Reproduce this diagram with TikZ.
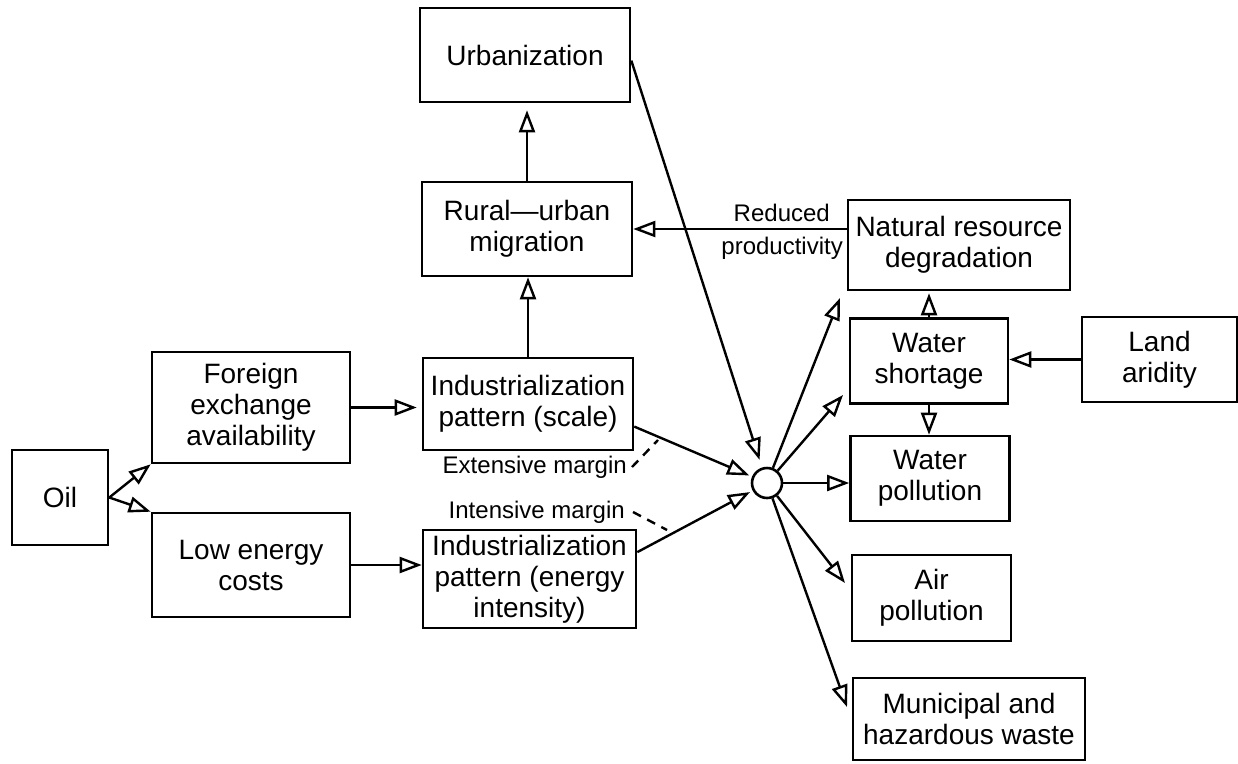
\documentclass[tikz,border=0pt]{standalone}
\usepackage{fontspec}
\setmainfont{Liberation Sans}
\usetikzlibrary{arrows.meta}
\begin{document}
\begin{tikzpicture}[x=1pt,y=-1pt,
 box/.style={draw,line width=2.6pt,rectangle,inner sep=0pt,align=center,font=\fontsize{28}{31}\selectfont},
 arr/.style={line width=2.4pt,-{Triangle[open,length=22pt,width=16pt,line width=2.4pt]}},
 lbl/.style={font=\fontsize{24}{28}\selectfont,inner sep=0pt},
 mdash/.style={line width=2.4pt,dash pattern=on 9pt off 7pt}]
\useasboundingbox[fill=white] (0,0) rectangle (1238,763);
\node[box,minimum width=96pt,minimum height=95pt] (oil) at (60,497.5) {Oil};
\node[box,minimum width=198pt,minimum height=111pt] (foreign) at (251,407.5) {Foreign\\exchange\\availability};
\node[box,minimum width=198pt,minimum height=104pt] (lowenergy) at (251,565) {Low energy\\costs};
\node[box,minimum width=210pt,minimum height=92pt] (indscale) at (528,404) {Industrialization\\pattern (scale)};
\node[box,minimum width=213pt,minimum height=98pt] (indenergy) at (529.5,579) {Industrialization\\pattern (energy\\intensity)};
\node[box,minimum width=210pt,minimum height=94pt] (urban) at (525,55) {Urbanization};
\node[box,minimum width=210pt,minimum height=94pt] (rural) at (527,229) {Rural---urban\\migration};
\node[box,minimum width=222pt,minimum height=90pt] (natres) at (959,245) {Natural resource\\degradation};
\node[box,minimum width=158pt,minimum height=85pt] (watershort) at (929,361) {Water\\shortage};
\node[box,minimum width=155pt,minimum height=85pt] (land) at (1159.5,359.5) {Land\\aridity};
\node[box,minimum width=159pt,minimum height=85pt] (waterpol) at (930,478.5) {Water\\pollution};
\node[box,minimum width=159pt,minimum height=86pt] (air) at (931.5,598) {Air\\pollution};
\node[box,minimum width=232pt,minimum height=82pt] (muni) at (969,719) {Municipal and\\hazardous waste};
\node[draw,circle,line width=2.6pt,minimum size=30pt,inner sep=0pt] (hub) at (767,483) {};
% left part
\draw[arr] (oil.east) -- (foreign.south west);
\draw[arr] (oil.east) -- (lowenergy.north west);
\draw[arr,shorten >=5pt] (foreign.east) -- (indscale.west |- foreign.east);
\draw[arr] (lowenergy.east) -- (indenergy.west |- lowenergy.east);
\draw[arr] (indscale.north) -- (indscale.north |- rural.south);
\draw[arr,shorten >=7pt] (rural.north) -- (rural.north |- urban.south);
\draw[arr] (natres.west |- rural.east) -- (rural.east);
% into hub
\draw[arr,shorten >=8pt] (urban.-3) -- (hub);
\draw[arr,shorten >=3pt] (indscale.-12) -- (hub);
\draw[arr,shorten >=3pt] (indenergy.14) -- (hub);
% out of hub
\coordinate (tNR) at (840,298);
\coordinate (tWS) at (843,395);
\coordinate (tAP) at (845,583);
\coordinate (tMW) at (847,707);
\draw[arr] (hub) -- (tNR);
\draw[arr] (hub) -- (tWS);
\draw[arr] (hub) -- (hub -| waterpol.west);
\draw[arr] (hub) -- (tAP);
\draw[arr] (hub) -- (tMW);
% right part
\draw[arr,shorten >=2pt] (watershort.north) -- (watershort.north |- natres.south);
\draw[arr] (watershort.south) -- (watershort.south |- waterpol.north);
\draw[arr] (land.west) -- (watershort.east |- land.west);
% labels
\node[lbl,anchor=east] (red) at (830,213) {Reduced};
\node[lbl,anchor=east] (prod) at (843,248) {productivity};
\node[lbl,anchor=east] (ext) at (627,467) {Extensive margin};
\node[lbl,anchor=east] (int) at (625,512) {Intensive margin};
\coordinate (eD) at (658,440);
\coordinate (iD) at (667,530);
\draw[mdash] ([xshift=5pt]ext.east) -- (eD);
\draw[mdash] ([xshift=8pt]int.east) -- (iD);
\end{tikzpicture}
\end{document}
